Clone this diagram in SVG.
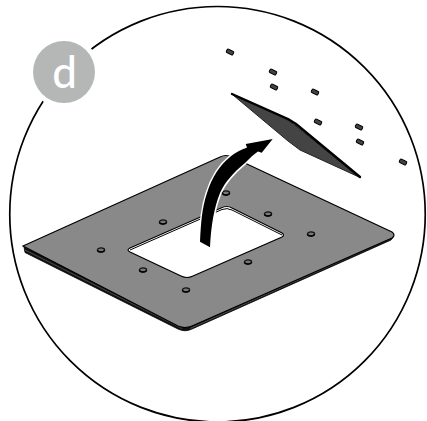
<svg xmlns="http://www.w3.org/2000/svg" width="427" height="421" viewBox="0 0 427 421">
<defs>
<style>
.hole{fill:#777;stroke:#111;stroke-width:1.3}
.bolt{fill:#444;stroke:#000;stroke-width:1}
</style>
<g id="h"><ellipse class="hole" cx="0" cy="0" rx="3.6" ry="2.1"/><path d="M-3.4 .6A3.6 2.1 0 0 0 3.4 .6" fill="none" stroke="#000" stroke-width="1.6"/></g>
<rect id="b" class="bolt" x="-3.6" y="-1.9" width="7.2" height="3.8" rx="1" transform="rotate(28)"/>
</defs>
<rect width="427" height="421" fill="#fff"/>
<circle id="frame" cx="217.500" cy="214.250" r="207.750" fill="none" stroke="#000" stroke-width="1.7"/>
<g id="badge">
<circle cx="64" cy="72" r="36" fill="#fff"/>
<circle cx="64" cy="72" r="31" fill="#b5b7b6"/>
<text x="64.500" y="88" font-family="Lato, 'Open Sans', sans-serif" font-size="44" font-weight="500" fill="#fff" text-anchor="middle">d</text>
</g>
<g id="base-plate">
<path d="M24 247L25 252.500L178 329Q185 332.500 192 329L391 240L394 236L185 325Z" fill="#111" stroke="#000" stroke-width=".8"/>
<path d="M25 250L182 328.500M190 328.500L391 238.500" fill="none" stroke="#777" stroke-width=".6"/>
<path fill-rule="evenodd" d="M23 246L220 157Q226 154 232 157L392 232Q396 235 392 238L192 326Q185 329 178 326ZM130 248Q126 250 130 252L181 276Q187 279 193 276L282 237Q285 235 282 233L232 208Q227 205 221 208Z" fill="#898989" stroke="#000" stroke-width="1.2"/>
<path d="M130 250L222 209.500Q227 207.500 232 210L282 235" fill="none" stroke="#000" stroke-width="1"/>
<use href="#h" x="163" y="222"/><use href="#h" x="101" y="250"/><use href="#h" x="143" y="270"/><use href="#h" x="186" y="290"/><use href="#h" x="226" y="193"/><use href="#h" x="268" y="214"/><use href="#h" x="311" y="234"/><use href="#h" x="248" y="262"/>
</g>
<g id="small-plate">
<path d="M233 95L288 141L300 150L359 177L296 126L288 120Z" fill="#444" stroke="#222" stroke-width="1"/>
<path d="M232 94L288 119L296 124L360 177" fill="none" stroke="#000" stroke-width="2.4" stroke-linejoin="round" stroke-linecap="round"/>
</g>
<g id="bolts">
<use href="#b" x="230" y="52"/><use href="#b" x="273" y="72"/><use href="#b" x="274" y="87"/><use href="#b" x="315" y="92"/><use href="#b" x="318" y="122"/><use href="#b" x="359" y="127"/><use href="#b" x="360" y="142"/><use href="#b" x="403" y="162"/>
</g>
<g id="connectors">
<path d="M200 241.700C201 222 202 208 207 193C212 177 220 165 230 157C236 152 241 150 247 147.500L245.700 144L272.700 139L261.700 152.700L258 151.500C254 154 250 158 245 163C233 173 225 182 220 193C214 208 211 226 210 247.300Z" fill="#000" stroke="#fff" stroke-width="3" paint-order="stroke"/>
</g>
</svg>
